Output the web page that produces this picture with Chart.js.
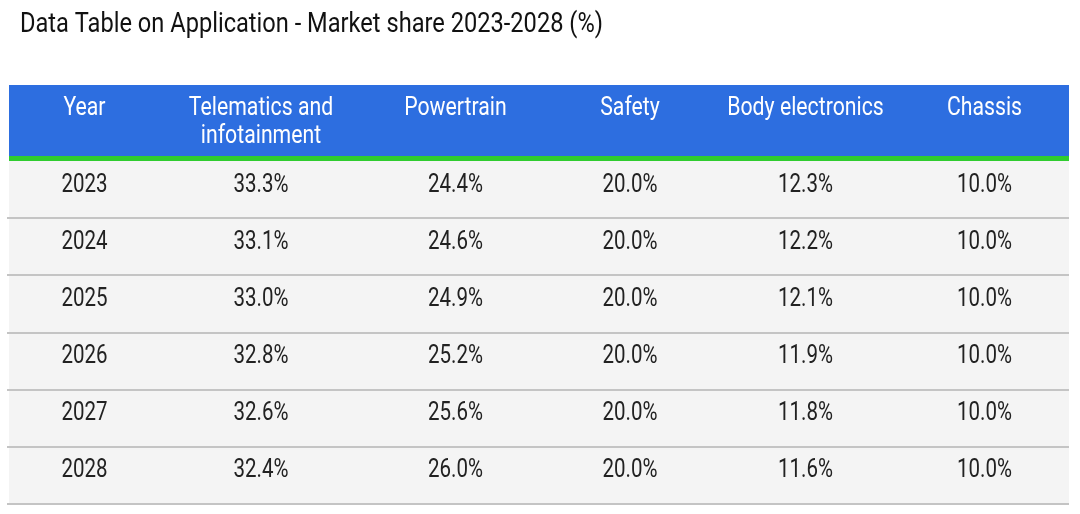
<!DOCTYPE html>
<html>
<head>
<meta charset="utf-8">
<script src="https://cdn.jsdelivr.net/npm/chart.js@4"></script>
<style>
  html, body { margin: 0; padding: 0; background: #ffffff; }
  #wrap { width: 1080px; height: 514px; }
</style>
</head>
<body>
<div id="wrap"><canvas id="table"></canvas></div>
<script>
const years = ['2023', '2024', '2025', '2026', '2027', '2028'];
const headers = ['Year', ['Telematics and', 'infotainment'], 'Powertrain', 'Safety', 'Body electronics', 'Chassis'];
const telematics = [33.3, 33.1, 33.0, 32.8, 32.6, 32.4];
const powertrain = [24.4, 24.6, 24.9, 25.2, 25.6, 26.0];
const safety = [20.0, 20.0, 20.0, 20.0, 20.0, 20.0];
const bodyElectronics = [12.3, 12.2, 12.1, 11.9, 11.8, 11.6];
const chassis = [10.0, 10.0, 10.0, 10.0, 10.0, 10.0];

// layout: column edges along the x scale (table width units)
const colEdges = [0, 151, 353, 540, 702, 891, 1060];
const tableWidth = colEdges[colEdges.length - 1];

const FONT = 'Roboto, "Noto Sans", sans-serif';

// the reference font is narrower than Roboto, so squeeze it a bit
function drawText(ctx, text, x, y, size, color, align, squeeze) {
    ctx.save();
    ctx.font = size + 'px ' + FONT;
    ctx.fillStyle = color;
    ctx.textBaseline = 'alphabetic';
    ctx.translate(x, y);
    ctx.scale(squeeze || 0.82, 1);
    ctx.textAlign = align || 'center';
    ctx.fillText(text, 0, 0);
    ctx.restore();
}

const tablePlugin = {
    id: 'tablePlugin',
    beforeDraw(chart) {
        const ctx = chart.ctx;
        const xs = chart.scales.x;
        const area = chart.chartArea;

        // title
        drawText(ctx, 'Data Table on Application - Market share 2023-2028 (%)', 20, 32, 27, '#111111', 'left', 0.875);

        // header band
        ctx.fillStyle = '#2d6ee0';
        ctx.fillRect(area.left, 85, area.right - area.left, 71);
        ctx.fillStyle = '#2fcc2f';
        ctx.fillRect(area.left, 156, area.right - area.left, 5);

        headers.forEach((h, c) => {
            const cx = xs.getPixelForValue((colEdges[c] + colEdges[c + 1]) / 2);
            const lines = Array.isArray(h) ? h : [h];
            lines.forEach((line, k) => {
                drawText(ctx, line, cx, 115 + k * 28, 25, '#ffffff', 'center', 0.85);
            });
        });
    },
    afterDatasetsDraw(chart) {
        const ctx = chart.ctx;
        const xs = chart.scales.x;
        const ys = chart.scales.y;
        const area = chart.chartArea;
        const rowH = (area.bottom - area.top) / years.length;

        // row separators
        ctx.save();
        ctx.strokeStyle = '#c4c4c4';
        ctx.lineWidth = 2;
        years.forEach((y, i) => {
            const py = Math.round(ys.getPixelForValue(i) + rowH / 2);
            ctx.beginPath();
            ctx.moveTo(area.left - 2, py);
            ctx.lineTo(area.right, py);
            ctx.stroke();
        });
        ctx.restore();

        const columns = [years, telematics, powertrain, safety, bodyElectronics, chassis];
        columns.forEach((col, c) => {
            const cx = xs.getPixelForValue((colEdges[c] + colEdges[c + 1]) / 2);
            col.forEach((v, i) => {
                const py = ys.getPixelForValue(i) + 2;
                const txt = c === 0 ? v : v.toFixed(1) + '%';
                drawText(ctx, txt, cx, py, 25, '#222222');
            });
        });
    }
};

new Chart(document.getElementById('table'), {
    type: 'bar',
    data: {
        labels: years,
        datasets: [{
            label: 'rows',
            data: years.map(() => [0, tableWidth]),
            backgroundColor: '#f4f4f4',
            borderWidth: 0,
            barPercentage: 1,
            categoryPercentage: 1
        }]
    },
    options: {
        indexAxis: 'y',
        responsive: true,
        maintainAspectRatio: false,
        animation: false,
        layout: { padding: { top: 161, bottom: 10, left: 9, right: 11 } },
        scales: {
            x: { type: 'linear', min: 0, max: tableWidth, display: false },
            y: { type: 'category', display: false, offset: true }
        },
        plugins: {
            legend: { display: false },
            tooltip: { enabled: false },
            title: { display: false }
        }
    },
    plugins: [tablePlugin]
});
</script>
</body>
</html>
